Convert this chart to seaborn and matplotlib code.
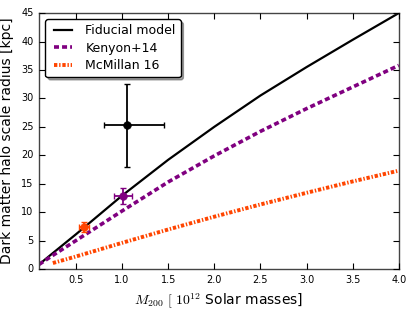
import matplotlib
matplotlib.use("Agg")
import numpy as np
import pandas as pd
import matplotlib.pyplot as plt
import seaborn as sns

# ======================================
# DADOS
# ======================================
massa = [0.1, 0.25, 0.5, 0.75, 1.0, 1.5, 2.0, 2.5, 3.0, 3.5, 4.0]
raio_fiducial = [0.8, 2.8, 6.1, 9.5, 12.9, 19.2, 25.0, 30.5, 35.5, 40.3, 45.0]
raio_kenyon = [0.8, 2.4, 5.0, 7.6, 10.2, 15.3, 19.9, 24.2, 28.2, 32.0, 35.8]

massa_mcmillan = [0.25, 0.5, 0.75, 1.0, 1.5, 2.0, 2.5, 3.0, 3.5, 4.0]
raio_mcmillan = [1.05, 2.2, 3.4, 4.6, 6.95, 9.2, 11.35, 13.4, 15.4, 17.3]

# pontos com barras de erro
pontos_x = [1.05, 1.01, 0.59]
pontos_y = [25.3, 12.9, 7.45]
pontos_xerr_menos = [0.25, 0.10, 0.055]
pontos_xerr_mais = [0.40, 0.10, 0.055]
pontos_yerr = [7.3, 1.4, 0.9]
pontos_cores = ["black", "purple", "orangered"]

# ======================================
# FIGURA
# ======================================
plt.style.use("classic")
plt.rcParams["mathtext.fontset"] = "cm"
plt.rcParams["font.family"] = ["DejaVu Sans"]

fig = plt.figure(figsize=(4.15, 3.11), dpi=100)
ax = fig.add_axes([0.094, 0.135, 0.867, 0.823])

df_fid = pd.DataFrame({"m": massa, "r": raio_fiducial})
df_ken = pd.DataFrame({"m": massa, "r": raio_kenyon})
df_mcm = pd.DataFrame({"m": massa_mcmillan, "r": raio_mcmillan})

sns.lineplot(data=df_fid, x="m", y="r", ax=ax, color="black", lw=1.6,
             label="Fiducial model", sort=False)
sns.lineplot(data=df_ken, x="m", y="r", ax=ax, color="purple", lw=2.6,
             label="Kenyon+14", sort=False)
ax.lines[-1].set_dashes((3.6, 2.2))
sns.lineplot(data=df_mcm, x="m", y="r", ax=ax, color="orangered", lw=2.8,
             label="McMillan 16", sort=False)
ax.lines[-1].set_dashes((2.4, 1.3, 1.0, 1.3))

for x, y, xm, xp, ye, c in zip(pontos_x, pontos_y, pontos_xerr_menos,
                               pontos_xerr_mais, pontos_yerr, pontos_cores):
    ax.errorbar([x], [y], xerr=[[xm], [xp]], yerr=[ye], fmt="o", color=c,
                mec=c, ms=5.5, elinewidth=1.3, capsize=2.5, capthick=1.0,
                zorder=5)

ax.set_xlim(0.1, 4.0)
ax.set_ylim(0, 45)
ax.set_xticks([0.5, 1.0, 1.5, 2.0, 2.5, 3.0, 3.5, 4.0])
ax.set_yticks(range(0, 46, 5))
ax.tick_params(labelsize=7, length=4, width=0.8)
for s in ax.spines.values():
    s.set_color("#444444")

ax.set_xlabel(r"$M_{200}$ $[\ 10^{12}$ Solar masses]", fontsize=10)
ax.set_ylabel("Dark matter halo scale radius [kpc]", fontsize=10)

leg = ax.legend(loc="upper left", fontsize=9, handlelength=2.0,
                fancybox=True, shadow=True, borderaxespad=0.5,
                labelspacing=0.35, handletextpad=0.8)
leg.get_frame().set_edgecolor("black")

fig.savefig("out.png", dpi=100)
